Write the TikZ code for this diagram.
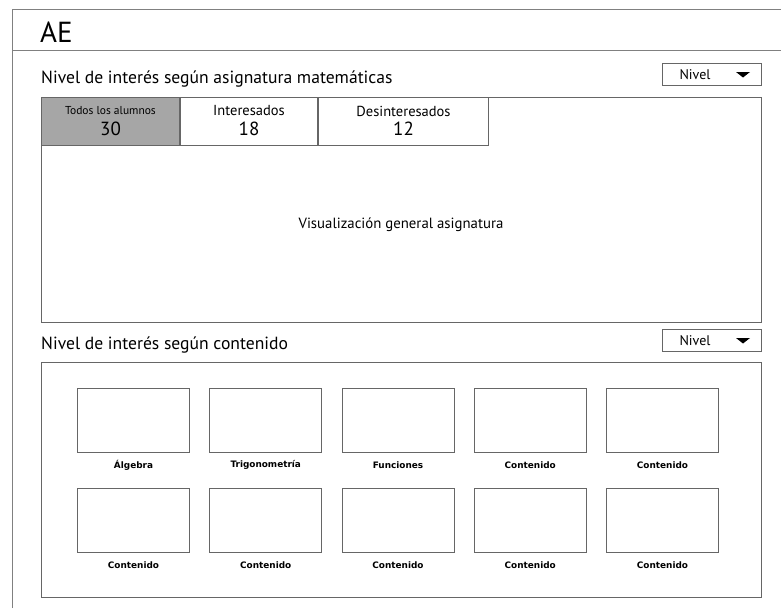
\documentclass[tikz,border=0pt]{standalone}
\usepackage{fontspec}
\setmainfont{PT Sans}
\newfontfamily\captionfont{DejaVu Sans}
\usetikzlibrary{positioning}

\begin{document}
\begin{tikzpicture}[x=1pt,y=-1pt,
	frame/.style={draw=black!50,line width=0.8pt},
	box/.style={rectangle,draw=black!60,line width=1pt,inner sep=0pt,anchor=north west},
	tab/.style={box,minimum height=48pt},
	thumb/.style={box,minimum width=112pt,minimum height=64pt},
	drop/.style={box,minimum width=99pt,minimum height=22pt},
	caption/.style={font=\captionfont\bfseries\fontsize{8.9}{10}\selectfont,inner sep=0pt}]
\useasboundingbox (0,0) rectangle (781,608);
% window
\draw[frame] (12,608) -- (12,9) -- (781,9);
\draw[frame] (12,50) -- (781,50);
\node[anchor=base west,inner sep=0pt,font=\fontsize{29}{32}\selectfont] (titulo) at (40,42) {AE};

% asignatura
\node[anchor=base west,inner sep=0pt,font=\fontsize{17.6}{20}\selectfont] (h1) at (41,83) {Nivel de interés según asignatura matemáticas};
\node[drop] (d1) at (662,63) {};
\node[box,minimum width=720pt,minimum height=225pt] (vista) at (41,97) {};
\node[tab,minimum width=138pt,fill=black!35] (tab1) at (41,97) {};
\node[tab,minimum width=137pt,right=0pt of tab1.north east,anchor=north west] (tab2) {};
\node[tab,minimum width=170pt,right=0pt of tab2.north east,anchor=north west] (tab3) {};
\node[font=\fontsize{11.5}{12}\selectfont,inner sep=0pt] (n1) at ([yshift=-14pt]tab1.north) {Todos los alumnos};
\node[font=\fontsize{14.5}{16}\selectfont,inner sep=0pt] (n2) at ([yshift=-14pt]tab2.north) {Interesados};
\node[font=\fontsize{14.5}{16}\selectfont,inner sep=0pt] (n3) at ([yshift=-14pt]tab3.north) {Desinteresados};
\node[font=\fontsize{19}{21}\selectfont,inner sep=0pt] (v1) at ([yshift=-32pt]tab1.north) {30};
\node[font=\fontsize{19}{21}\selectfont,inner sep=0pt] (v2) at ([yshift=-32pt]tab2.north) {18};
\node[font=\fontsize{19}{21}\selectfont,inner sep=0pt] (v3) at ([yshift=-32pt]tab3.north) {12};
\node[font=\fontsize{14.8}{16}\selectfont,inner sep=0pt] (vtxt) at (401,225) {Visualización general asignatura};

% contenido
\node[anchor=base west,inner sep=0pt,font=\fontsize{17.6}{20}\selectfont] (h2) at (41,349) {Nivel de interés según contenido};
\node[drop] (d2) at (662,329) {};
\node[box,minimum width=720pt,minimum height=235pt] (temas) at (41,362) {};
\foreach \name [count=\i] in {Álgebra,Trigonometría,Funciones,Contenido,Contenido,Contenido,Contenido,Contenido,Contenido,Contenido}
{
	\pgfmathtruncatemacro\col{mod(\i-1,5)}
	\pgfmathtruncatemacro\row{div(\i-1,5)}
	\node[thumb] (t\i) at (\col*132.25+77,\row*100+388) {};
	\node[caption] (l\i) at ([yshift=-12pt]t\i.south) {\name};
}

% desplegables
\foreach \d in {d1,d2}
{
	\node[font=\fontsize{14}{16}\selectfont,inner sep=0pt] (\d txt) at ([xshift=33pt]\d.west) {Nivel};
	\fill ([xshift=-26pt,yshift=2.5pt]\d.east) -- ([xshift=-12pt,yshift=2.5pt]\d.east) -- ([xshift=-19pt,yshift=-3pt]\d.east) -- cycle;
}
\end{tikzpicture}
\end{document}
